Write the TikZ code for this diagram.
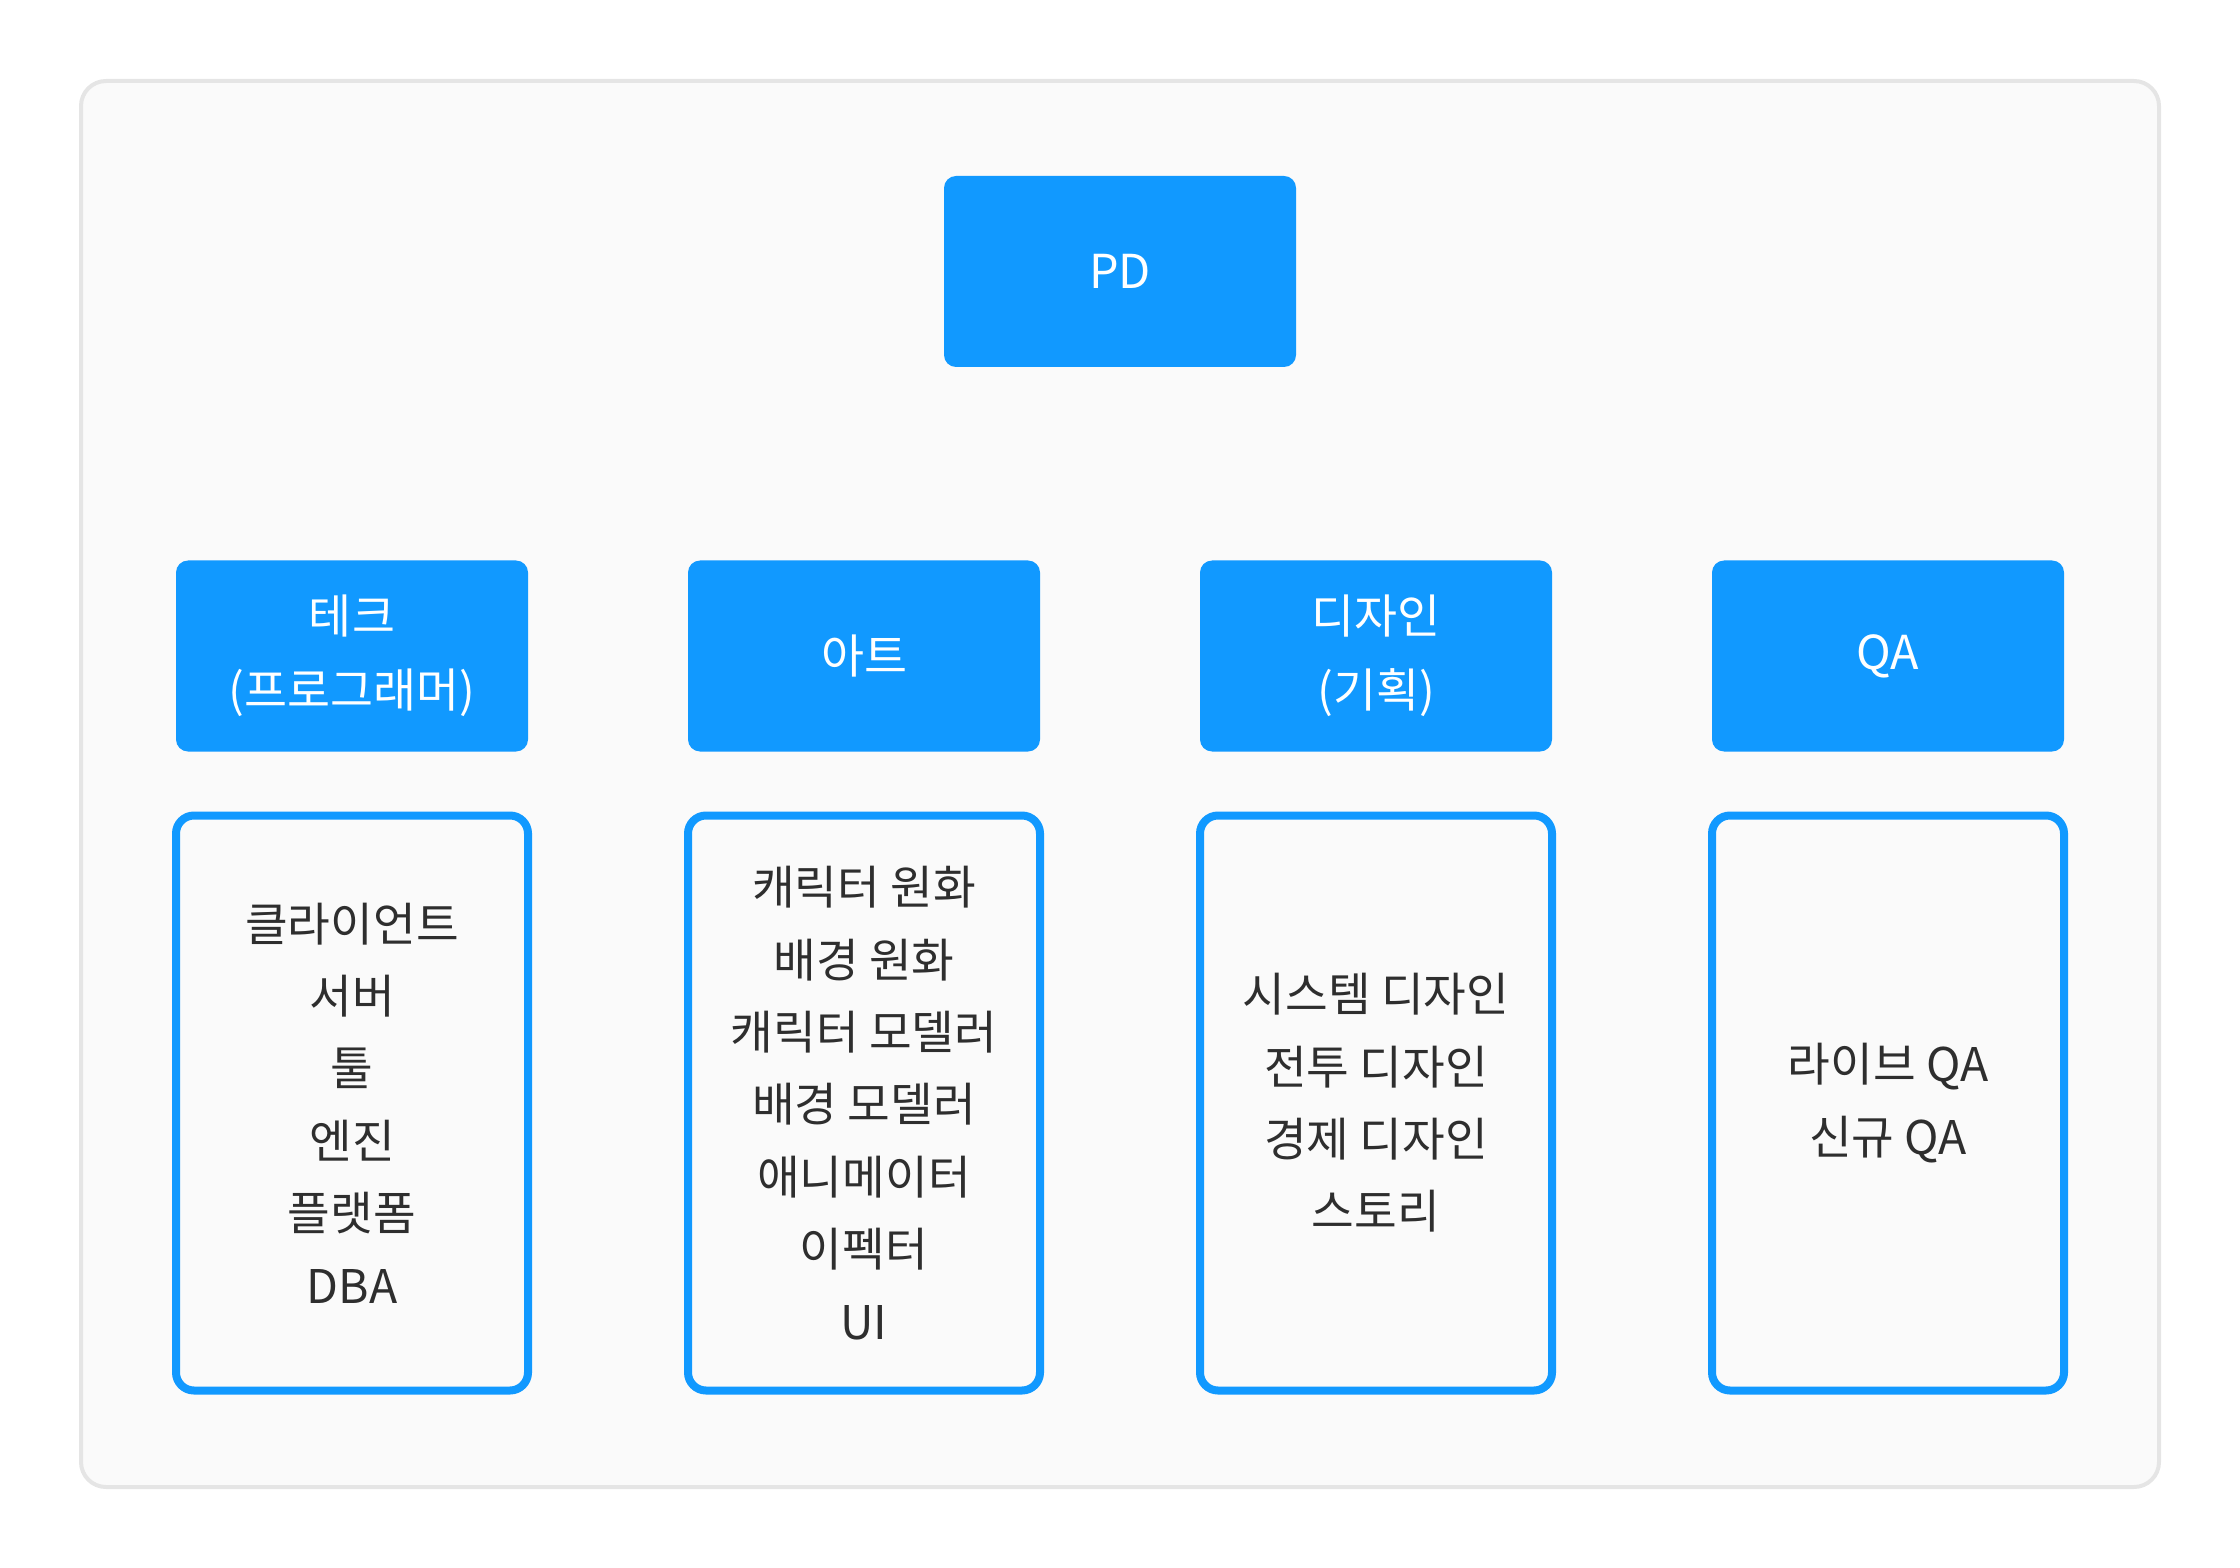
\documentclass[tikz,border=0pt]{standalone}
\usepackage{fontspec}
\setmainfont{Noto Sans CJK KR}
\usepackage{tikz}
\usetikzlibrary{positioning}

\definecolor{pdblue}{HTML}{1199FF}
\definecolor{panelfill}{HTML}{FAFAFA}
\definecolor{panelline}{HTML}{E5E5E5}
\definecolor{inktext}{HTML}{2E2E2E}

\tikzset{
  headbox/.style={rectangle, rounded corners=0.12cm, fill=pdblue, text=white, inner sep=0pt, outer sep=0pt,
    minimum width=3.52cm, minimum height=1.91cm, align=center,
    font=\fontsize{13.3}{21}\selectfont},
  listbox/.style={rectangle, rounded corners=0.18cm, draw=pdblue, line width=0.08cm, fill=panelfill,
    text=inktext, inner sep=0pt, minimum width=3.52cm, minimum height=5.75cm, align=center,
    font=\fontsize{13.2}{20.6}\selectfont}
}

\begin{document}
\begin{tikzpicture}[node distance=1.6cm]
    \useasboundingbox (0,0) rectangle (22.4,-15.68);
    \draw[panelline, fill=panelfill, line width=0.04cm, rounded corners=0.25cm] (0.81,-0.81) rectangle (21.59,-14.87);

    \node[headbox] (pd) at (11.2,-2.715) {PD};

    \node[headbox] (tech) at (3.52,-6.56) {테크\\(프로그래머)};
    \node[headbox, right=of tech] (art) {아트};
    \node[headbox, right=of art] (design) {디자인\\(기획)};
    \node[headbox, right=of design] (qa) {QA};

    \node[listbox, below=0.6cm of tech] (techlist) {클라이언트\\서버\\툴\\엔진\\플랫폼\\DBA};
    \node[listbox, below=0.6cm of art] (artlist) {캐릭터 원화\\배경 원화\\캐릭터 모델러\\배경 모델러\\애니메이터\\이펙터\\UI};
    \node[listbox, below=0.6cm of design] (designlist) {시스템 디자인\\전투 디자인\\경제 디자인\\스토리};
    \node[listbox, below=0.6cm of qa] (qalist) {라이브 QA\\신규 QA};
\end{tikzpicture}
\end{document}
